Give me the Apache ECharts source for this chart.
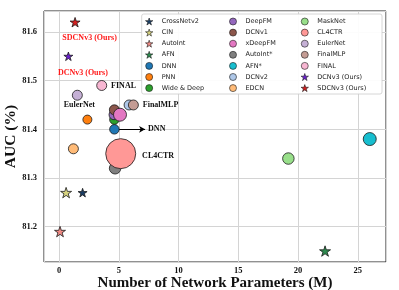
<!DOCTYPE html>
<html><head><meta charset="utf-8">
<script src="https://cdn.jsdelivr.net/npm/echarts@6/dist/echarts.min.js"></script>
<style>html,body{margin:0;padding:0;background:#fff}#c{width:399px;height:290px}</style>
</head><body><div id="c"></div>
<script>
// ---- data ----
const models = ['CrossNetv2','CIN','AutoInt','AFN','DNN','PNN','Wide & Deep',
  'DeepFM','DCNv1','xDeepFM','AutoInt*','AFN*','DCNv2','EDCN',
  'MaskNet','CL4CTR','EulerNet','FinalMLP','FINAL','DCNv3 (Ours)','SDCNv3 (Ours)'];
const params = [1.97,0.59,0.08,22.26,4.63,2.37,4.63,
  4.60,4.63,5.10,4.69,26.0,5.86,1.20,
  19.19,5.16,1.53,6.22,3.57,0.78,1.34];
const auc = [81.27,81.27,81.19,81.15,81.40,81.42,81.42,
  81.43,81.44,81.43,81.32,81.38,81.45,81.36,
  81.34,81.35,81.47,81.45,81.49,81.55,81.62];
const xTicks = [0,5,10,15,20,25];
const yTicks = [81.2,81.3,81.4,81.5,81.6];
const dnnArrowX = [5.0, 7.2];
const dnnArrowY = 81.40;

// ---- styles ----
const STAR = 'path://M100,0 L122.45,69.1 L195.1,69.1 L136.3,111.8 L158.8,180.9 L100,138.2 L41.2,180.9 L63.7,111.8 L4.9,69.1 L77.55,69.1 Z';
const colors = ['#1b3f66','#d8d480','#f08a84','#2e8b4f','#1f77b4','#ff7f0e','#2ca02c',
  '#9467bd','#8c564b','#e377c2','#7f7f7f','#17becf','#aec7e8','#ffbb78',
  '#98df8a','#ff9896','#c5b0d5','#c49c94','#f7b6d2','#6a1fd0','#d42020'];
const shapes = ['s','s','s','s','c','c','c','c','c','c','c','c','c','c','c','c','c','c','c','s','s'];
const sizes = [9,11,11,11,9.5,9,9.5,10,10,13,11.5,13,10,10,11.5,30,10,10,10,9,10];
const serif = '"Liberation Serif","DejaVu Serif",serif';
const labelCfg = {
  'FINAL': {position:'right', distance:4},
  'EulerNet': {position:'bottom', distance:0, offset:[2,0]},
  'FinalMLP': {position:'right', distance:4},
  'CL4CTR': {position:'right', distance:6, offset:[0,2.5]},
  'DCNv3 (Ours)': {position:'bottom', distance:6, offset:[14.5,2], color:'#ff1a1a'},
  'SDCNv3 (Ours)': {position:'bottom', distance:4, offset:[14.5,3], color:'#ff1a1a'}
};

const xMin = -1.26, xMax = 27.36, yMin = 81.1275, yMax = 81.643;

const series = models.map((m,i) => {
  const s = {
    name: m, type: 'scatter', z: 2+i,
    symbol: shapes[i]==='s' ? STAR : 'circle',
    symbolKeepAspect: true,
    symbolSize: sizes[i],
    itemStyle: {color: colors[i], borderColor:'#1a1a1a', borderWidth:0.8, opacity:1},
    emphasis: {disabled:true},
    data: [[params[i], auc[i]]],
    animation: false
  };
  const lc = labelCfg[m];
  if (lc) {
    s.label = {show:true, formatter: m,
      position: lc.position, distance: lc.distance, offset: lc.offset || [0,0],
      color: lc.color || '#111', fontFamily: serif, fontWeight:'bold', fontSize:8};
  }
  if (m === 'DNN') {
    s.markLine = {
      silent:true, animation:false, symbol:['none','arrow'], symbolSize:[5,6],
      lineStyle:{color:'#000', width:1, type:'solid'},
      label:{show:true, position:'end', distance:3, formatter:'DNN', color:'#111',
        fontFamily:serif, fontWeight:'bold', fontSize:8},
      data:[[{coord:[dnnArrowX[0], dnnArrowY]},{coord:[dnnArrowX[1], dnnArrowY]}]]
    };
  }
  return s;
});

const legendItems = models.map((m,i) => ({
  name: m,
  icon: shapes[i]==='s' ? STAR : 'circle',
  itemStyle: {color: colors[i], borderColor:'#1a1a1a', borderWidth:0.6}
}));

const legendBase = {
  orient:'vertical', itemWidth:15, itemHeight:7, itemGap:3.1, z:20,
  symbolKeepAspect:true,
  textStyle:{fontFamily:'"DejaVu Sans",sans-serif', fontSize:6.5, color:'#222', lineHeight:8},
  selectedMode:false, padding:0
};

const chart = echarts.init(document.getElementById('c'), null, {renderer:'canvas'});
chart.setOption({
  animation:false,
  backgroundColor:'#fff',
  grid:{left:44, top:11, right:13, bottom:28, containLabel:false, outerBoundsMode:'none',
    show:true, borderColor:'#222', borderWidth:1, backgroundColor:'transparent'},
  xAxis:{type:'value', min:xMin, max:xMax, splitNumber:6,
    axisLine:{show:false}, axisTick:{show:false},
    splitLine:{show:true, lineStyle:{color:'#d4d4d4', width:1}},
    axisLabel:{showMinLabel:false, showMaxLabel:false, margin:4,
      fontFamily:serif, fontWeight:'bold', fontSize:8.5, color:'#111',
      formatter:v => xTicks.includes(Math.round(v*100)/100) ? String(Math.round(v)) : ''},
    name:'Number of Network Parameters (M)', nameLocation:'middle', nameGap:13.5,
    nameMoveOverlap:false,
    nameTextStyle:{fontFamily:serif, fontWeight:'bold', fontSize:15, color:'#111'}},
  yAxis:{type:'value', min:yMin, max:yMax, splitNumber:5,
    axisLine:{show:false}, axisTick:{show:false},
    splitLine:{show:true, lineStyle:{color:'#d4d4d4', width:1}},
    axisLabel:{showMinLabel:false, showMaxLabel:false, margin:7,
      fontFamily:serif, fontWeight:'bold', fontSize:8.5, color:'#111',
      formatter:v => yTicks.some(t => Math.abs(t-v)<1e-6) ? v.toFixed(1) : ''},
    name:'AUC (%)', nameLocation:'middle', nameGap:25,
    nameMoveOverlap:false,
    nameTextStyle:{fontFamily:serif, fontWeight:'bold', fontSize:15.5, color:'#111'}},
  graphic:[{type:'rect', z:10, silent:true,
    shape:{x:141.7, y:14, width:240.3, height:80, r:2},
    style:{fill:'rgba(255,255,255,0.92)', stroke:'#cccccc', lineWidth:0.8}}],
  legend:[
    Object.assign({}, legendBase, {left:145.2, top:17.5, data:legendItems.slice(0,7)}),
    Object.assign({}, legendBase, {left:229.2, top:17.5, data:legendItems.slice(7,14)}),
    Object.assign({}, legendBase, {left:300.8, top:17.5, data:legendItems.slice(14,21)})
  ],
  series: series
});
</script></body></html>
